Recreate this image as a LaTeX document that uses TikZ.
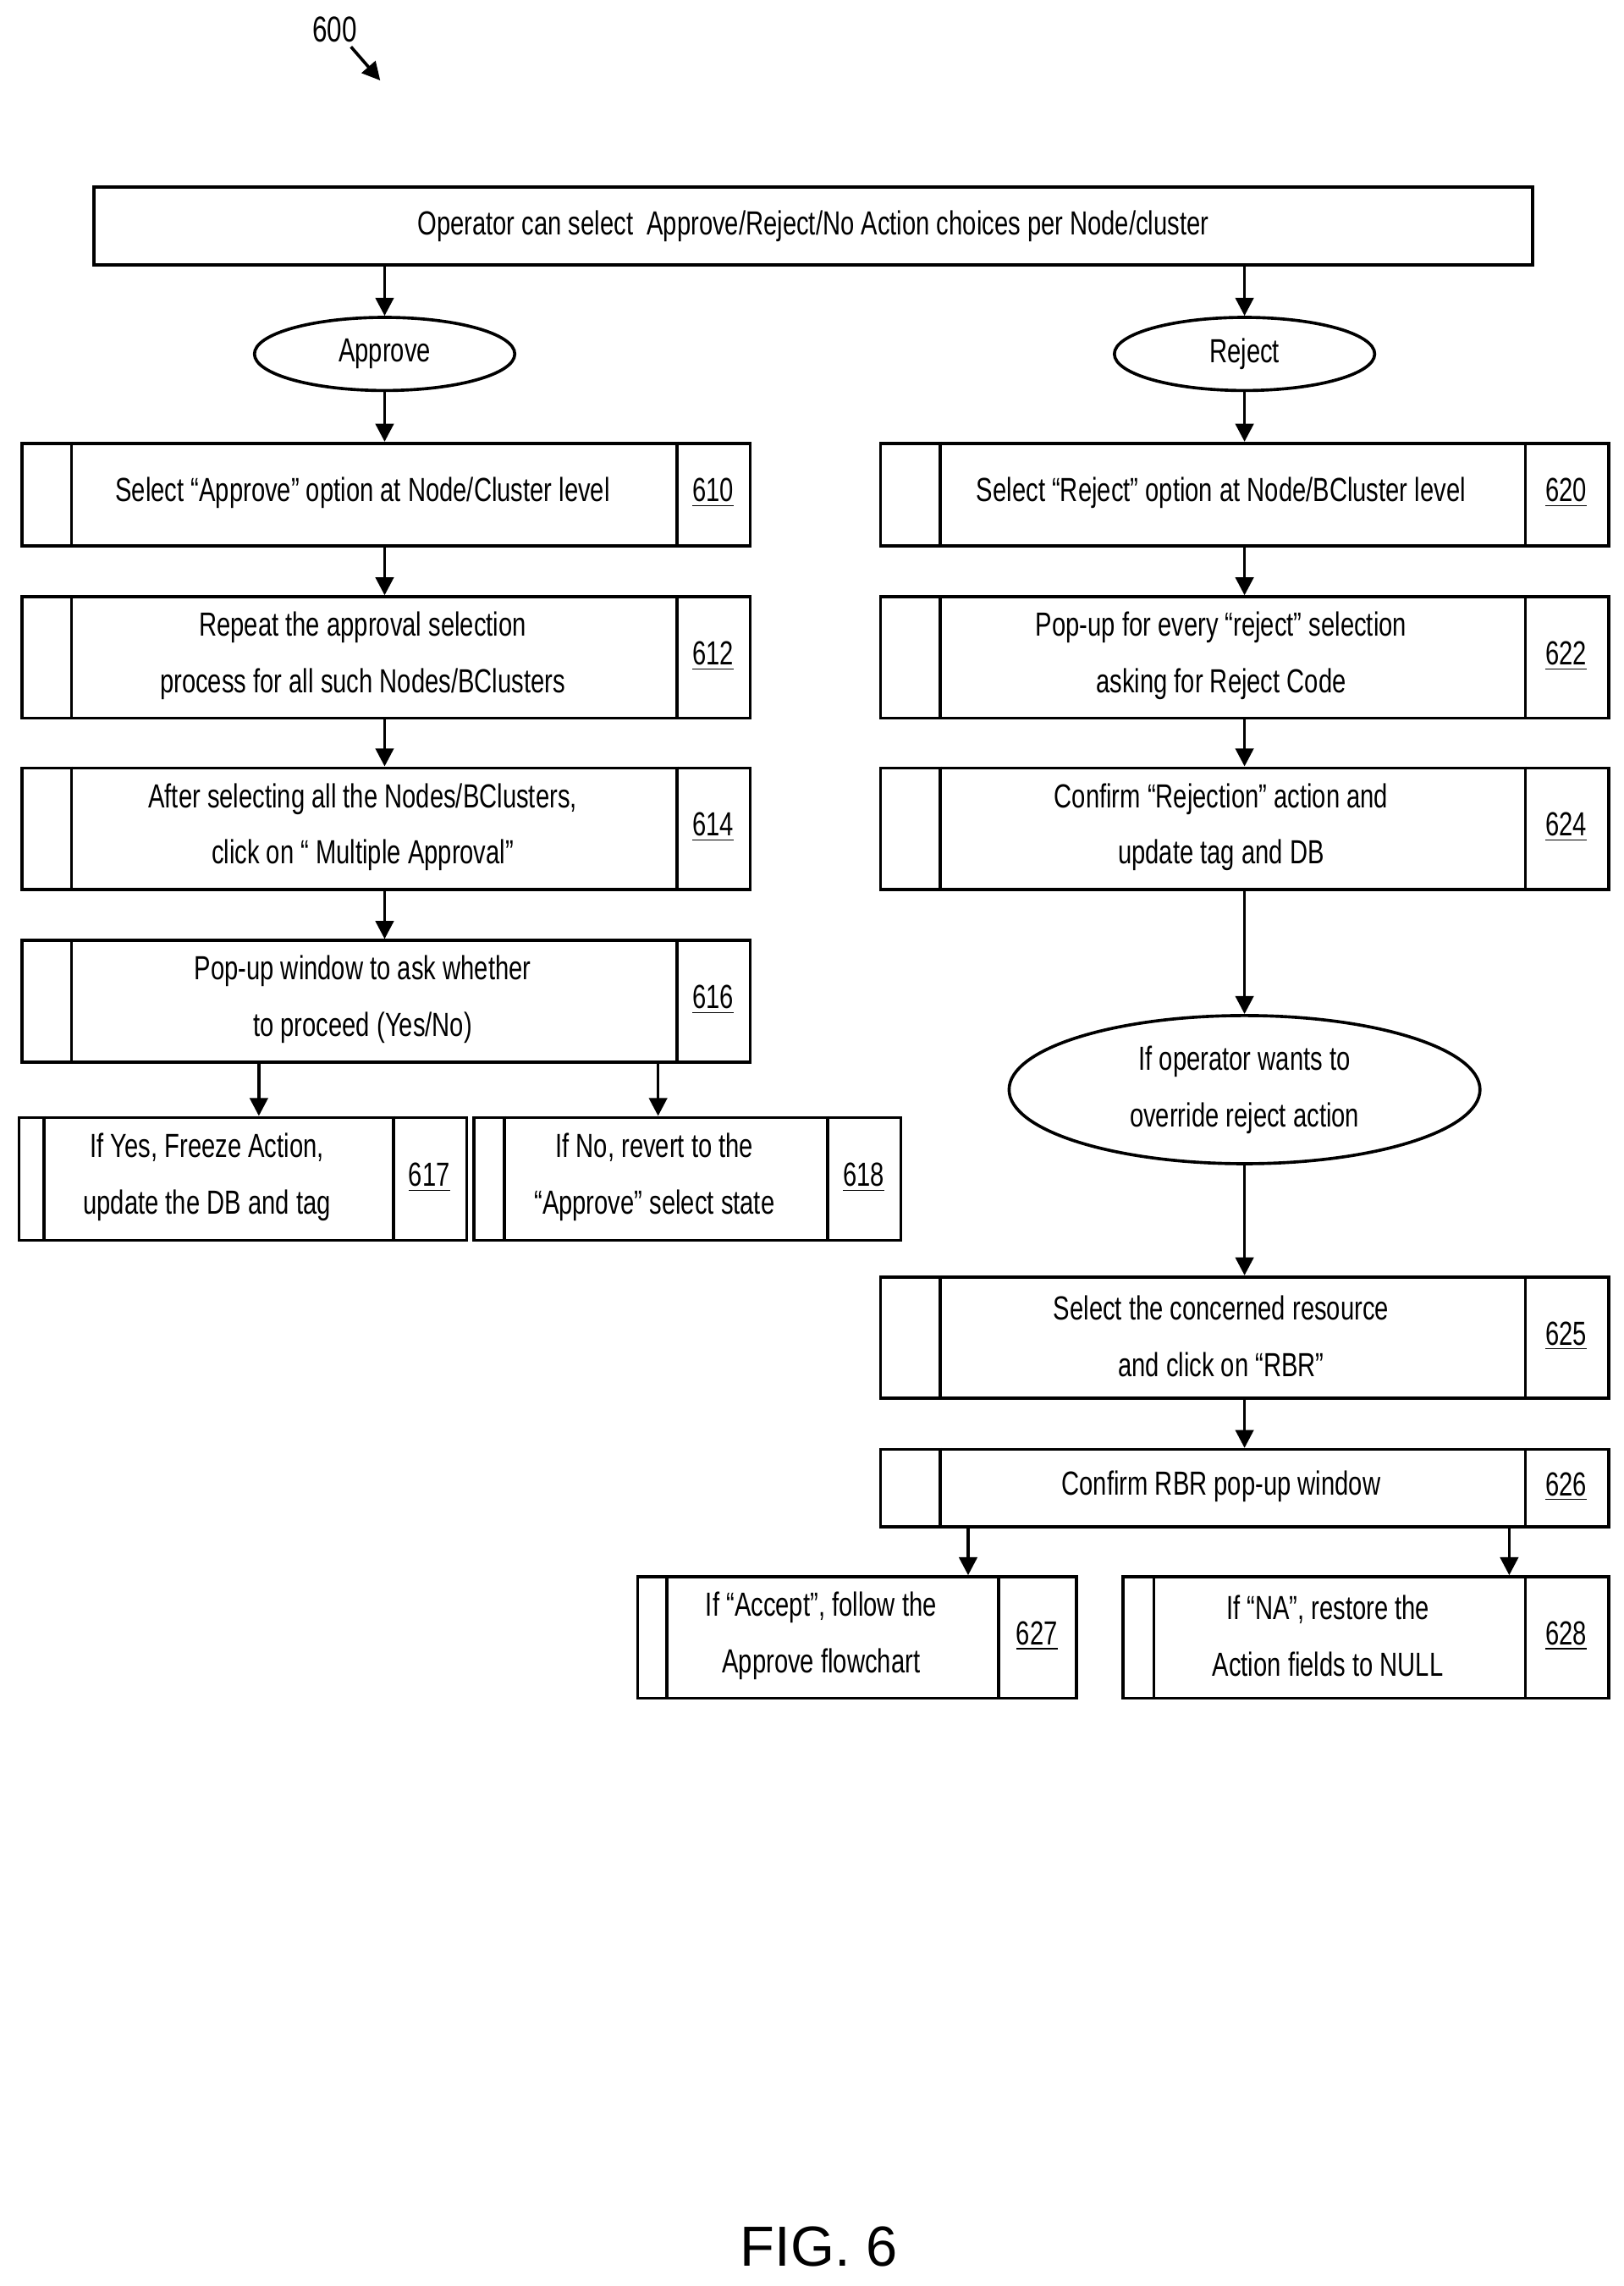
\documentclass[tikz,border=0pt]{standalone}
\usepackage{fontspec}
\setmainfont{Liberation Sans}[FakeStretch=0.74]
\newfontfamily\figfont{Liberation Sans}
\usetikzlibrary{shapes.geometric,arrows.meta,calc}
\tikzset{
  stepbox/.style={draw,line width=1.2pt,inner sep=0pt},
  oval/.style={draw,line width=1.2pt,ellipse,align=center,font=\fontsize{13}{22}\selectfont},
  flow/.style={-{Triangle[length=7pt,width=7pt]},line width=1.2pt},
  txt/.style={align=center,font=\fontsize{13}{22}\selectfont}
}
% box: name, x1, y1, x2, y2, inner line, divider, label, text
\newcommand\pbox[9]{%
  \node[stepbox,anchor=north west,minimum width={(#4-#2)*0.02cm},minimum height={(#5-#3)*0.02cm}] (#1) at (#2,#3) {};
  \draw[line width=1.2pt] (#6,#3) -- (#6,#5) (#7,#3) -- (#7,#5);
  \node[txt] (#1t) at ({(#6+#7)/2-8},{(#3+#5)/2}) {#9};
  \node[font=\fontsize{13}{15}\selectfont] (#1n) at ({(#7+#4)/2},{(#3+#5)/2}) {\underline{#8}};
}
\begin{document}
\begin{tikzpicture}[x=0.02cm,y=-0.02cm]
  \useasboundingbox (0,0) rectangle (1110,1563);
  \node[font=\fontsize{14}{16}\selectfont] (fig) at (229,20) {600};
  \coordinate (figend) at (260,55);
  \draw[flow] (240,32) -- (figend);

  \node[stepbox,anchor=north west,minimum width={984*0.02cm},minimum height={53*0.02cm}] (top) at (63,127) {};
  \node[txt] (topt) at (top.center) {Operator can select\ \ Approve/Reject/No Action choices per Node/cluster};

  \node[oval,minimum width={178*0.02cm},minimum height={50*0.02cm}] (app) at (263,242) {Approve};
  \node[oval,minimum width={178*0.02cm},minimum height={50*0.02cm}] (rej) at (851,242) {Reject};

  \pbox{p610}{14}{302}{512}{372}{49}{463}{610}{Select “Approve” option at Node/Cluster level}
  \pbox{p612}{14}{407}{512}{490}{49}{463}{612}{Repeat the approval selection\\process for all such Nodes/BClusters}
  \pbox{p614}{14}{524}{512}{607}{49}{463}{614}{After selecting all the Nodes/BClusters,\\click on “ Multiple Approval”}
  \pbox{p616}{14}{642}{512}{725}{49}{463}{616}{Pop-up window to ask whether\\to proceed (Yes/No)}
  \pbox{p617}{12}{763}{318}{847}{30}{269}{617}{If Yes, Freeze Action,\\update the DB and tag}
  \pbox{p618}{323}{763}{615}{847}{345}{566}{618}{If No, revert to the\\“Approve” select state}

  \pbox{p620}{601}{302}{1099}{372}{643}{1043}{620}{Select “Reject” option at Node/BCluster level}
  \pbox{p622}{601}{407}{1099}{490}{643}{1043}{622}{Pop-up for every “reject” selection\\asking for Reject Code}
  \pbox{p624}{601}{524}{1099}{607}{643}{1043}{624}{Confirm “Rejection” action and\\update tag and DB}
  \node[oval,minimum width={322*0.02cm},minimum height={100*0.02cm}] (ovr) at (851,745) {If operator wants to\\override reject action};
  \pbox{p625}{601}{872}{1099}{955}{643}{1043}{625}{Select the concerned resource\\and click on “RBR”}
  \pbox{p626}{601}{990}{1099}{1043}{643}{1043}{626}{Confirm RBR pop-up window}
  \pbox{p627}{435}{1077}{735}{1160}{456}{683}{627}{If “Accept”, follow the\\Approve flowchart}
  \pbox{p628}{767}{1077}{1099}{1160}{789}{1043}{628}{If “NA”, restore the\\Action fields to NULL}

  \draw[flow] (top.south -| app) -- (app);
  \draw[flow] (top.south -| rej) -- (rej);
  \draw[flow] (app) -- (app |- p610.north);
  \draw[flow] (app |- p610.south) -- (app |- p612.north);
  \draw[flow] (app |- p612.south) -- (app |- p614.north);
  \draw[flow] (app |- p614.south) -- (app |- p616.north);
  \draw[flow] (p616.south -| 177,0) -- (p617.north -| 177,0);
  \draw[flow] (p616.south -| 450,0) -- (p618.north -| 450,0);

  \draw[flow] (rej) -- (rej |- p620.north);
  \draw[flow] (rej |- p620.south) -- (rej |- p622.north);
  \draw[flow] (rej |- p622.south) -- (rej |- p624.north);
  \draw[flow] (rej |- p624.south) -- (ovr);
  \draw[flow] (ovr) -- (rej |- p625.north);
  \draw[flow] (rej |- p625.south) -- (rej |- p626.north);
  \draw[flow] (p626.south -| 662,0) -- (p627.north -| 662,0);
  \draw[flow] (p626.south -| 1032,0) -- (p628.north -| 1032,0);

  \node[font=\figfont\fontsize{22}{26}\selectfont] (cap) at (560,1536) {FIG. 6};
\end{tikzpicture}
\end{document}
